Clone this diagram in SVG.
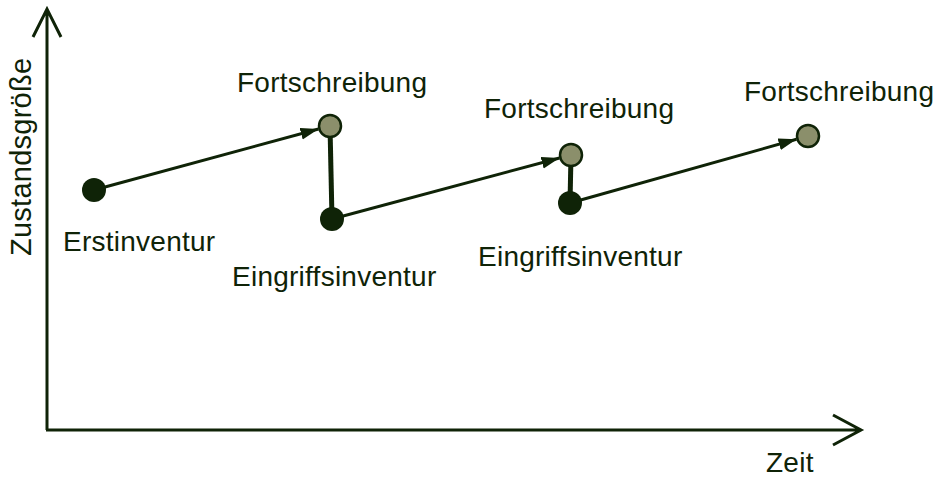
<svg xmlns="http://www.w3.org/2000/svg" width="941" height="480" viewBox="0 0 941 480">
  <style>
    .lbl { font-family: "Liberation Sans", Arial, sans-serif; font-size: 28px; letter-spacing: 0.25px; fill: #0f2307; }
    .axis { stroke: #0f2307; stroke-width: 3; fill: none; }
    .arr { stroke: #0f2307; stroke-width: 3; fill: none; marker-end: url(#ah); }
    .vert { stroke: #0f2307; stroke-width: 5; fill: none; }
    .dark { fill: #0f2307; }
    .light { fill: #8b8f6b; stroke: #0f2307; stroke-width: 2.5; }
  </style>
  <defs>
    <marker id="ah" markerUnits="userSpaceOnUse" markerWidth="20" markerHeight="14" refX="18" refY="6" orient="auto">
      <path d="M0,0 L18,6 L0,12 z" fill="#0f2307"/>
    </marker>
  </defs>
  <rect width="941" height="480" fill="#ffffff"/>
  <g id="axes">
    <path class="axis" d="M47,430 V9 M33,37 L47,9 L61,37"/>
    <path class="axis" d="M46,430 H861 M833,415 L861,430 L833,445"/>
    <text class="lbl" x="766" y="472">Zeit</text>
    <text class="lbl" style="font-size:29px" transform="translate(31,256) rotate(-90)">Zustandsgröße</text>
  </g>
  <g id="connectors">
    <line class="arr" x1="94" y1="190" x2="318.5" y2="129"/>
    <line class="vert" x1="330" y1="126" x2="332" y2="219"/>
    <line class="arr" x1="332" y1="219" x2="559.5" y2="158"/>
    <line class="vert" x1="571" y1="155" x2="570" y2="203"/>
    <line class="arr" x1="570" y1="203" x2="796.5" y2="139.3"/>
  </g>
  <g id="erstinventur">
    <circle class="dark" cx="94" cy="190" r="12"/>
    <text class="lbl" x="63" y="251">Erstinventur</text>
  </g>
  <g id="fortschreibung1">
    <circle class="light" cx="330" cy="126" r="11"/>
    <text class="lbl" x="237" y="92">Fortschreibung</text>
  </g>
  <g id="eingriffsinventur1">
    <circle class="dark" cx="332" cy="219" r="12"/>
    <text class="lbl" x="232" y="286">Eingriffsinventur</text>
  </g>
  <g id="fortschreibung2">
    <circle class="light" cx="571" cy="155" r="11"/>
    <text class="lbl" x="484" y="118">Fortschreibung</text>
  </g>
  <g id="eingriffsinventur2">
    <circle class="dark" cx="570" cy="203" r="12"/>
    <text class="lbl" x="478" y="266">Eingriffsinventur</text>
  </g>
  <g id="fortschreibung3">
    <circle class="light" cx="808" cy="136" r="11"/>
    <text class="lbl" x="744" y="101">Fortschreibung</text>
  </g>
</svg>
